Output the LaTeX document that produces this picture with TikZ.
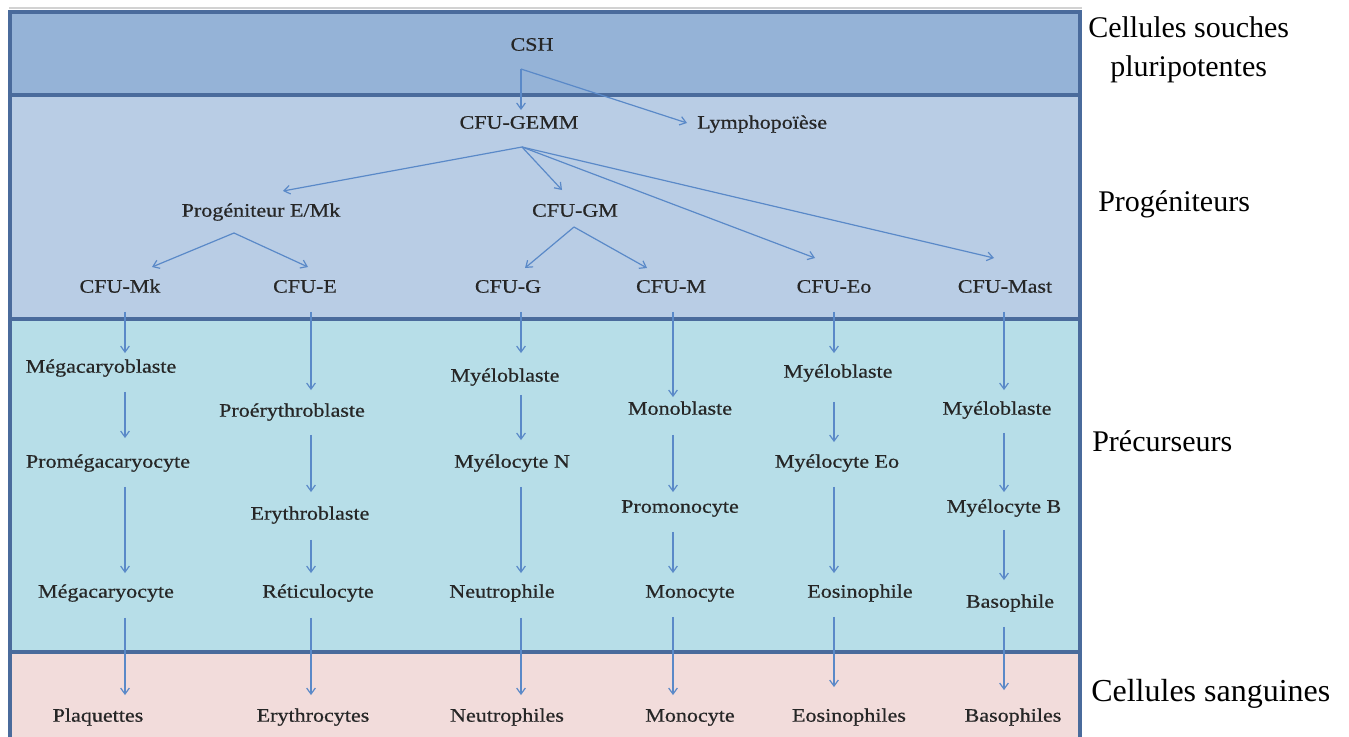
\documentclass[tikz,border=0pt]{standalone}
\usepackage{fontspec}
\setmainfont{Liberation Serif}
\newfontfamily\cellfont[FakeStretch=1.16,FakeBold=0.6]{Liberation Serif}
\usetikzlibrary{arrows.meta}
\definecolor{bandA}{HTML}{95B3D7}
\definecolor{bandB}{HTML}{B9CDE5}
\definecolor{bandC}{HTML}{B7DEE8}
\definecolor{bandD}{HTML}{F2DCDB}
\definecolor{bord}{HTML}{4A6B9C}
\definecolor{arrc}{HTML}{5A89C8}
\definecolor{txt}{HTML}{262626}
\newcommand\va[5]{\draw[arr,shorten <=#4pt,shorten >=#5pt] (#1.south -| #3) -- (#2.north -| #3);}
\begin{document}
\begin{tikzpicture}[x=0.75pt,y=-0.75pt,
 cell/.style={inner sep=0pt,text height=10pt,text depth=3pt,font=\cellfont\fontsize{14.25}{17}\selectfont,text=txt},
 side/.style={inner sep=0pt,font=\fontsize{22.5}{29}\selectfont,text=black,align=center},
 arr/.style={draw=arrc,line width=0.9pt,-{Straight Barb[length=4.5pt,width=6.5pt]}},
 sep/.style={draw=bord,line width=2.4pt}]
\useasboundingbox (0,0) rectangle (1349,736);
\begin{scope}
\clip (0,0) rectangle (1349,736);
\fill[bandA] (10,12) rectangle (1080,95);
\fill[bandB] (10,95) rectangle (1080,319);
\fill[bandC] (10,319) rectangle (1080,652);
\fill[bandD] (10,652) rectangle (1080,745);
\draw[gray!35,line width=1.5pt] (9,8) -- (1082,8);
\draw[sep] (10,95) -- (1080,95);
\draw[sep] (10,319) -- (1080,319);
\draw[sep] (10,652) -- (1080,652);
\draw[sep] (10,745) -- (10,12) -- (1080,12) -- (1080,745);
\end{scope}
% column coordinates
\coordinate (c1) at (125,0);
\coordinate (c2) at (311,0);
\coordinate (c3) at (521,0);
\coordinate (c4) at (673,0);
\coordinate (c5) at (834,0);
\coordinate (c6) at (1004,0);
% top
\node[cell] (csh) at (532,46) {CSH};
\node[cell] (gemm) at (519,124) {CFU-GEMM};
\node[cell,anchor=west] (lymph) at (697,124) {Lymphopoïèse};
\node[cell] (prog) at (261,212) {Progéniteur E/Mk};
\node[cell] (gm) at (575,212) {CFU-GM};
\node[cell] (mk) at (120,288) {CFU-Mk};
\node[cell] (e) at (305,288) {CFU-E};
\node[cell] (g) at (508,288) {CFU-G};
\node[cell] (m) at (671,288) {CFU-M};
\node[cell] (eo) at (834,288) {CFU-Eo};
\node[cell] (mast) at (1005,288) {CFU-Mast};
% column 1
\node[cell] (mkb) at (101,368) {Mégacaryoblaste};
\node[cell] (pmk) at (108,463) {Promégacaryocyte};
\node[cell] (mkc) at (106,593) {Mégacaryocyte};
\node[cell] (plaq) at (98,717) {Plaquettes};
% column 2
\node[cell] (pery) at (292,412) {Proérythroblaste};
\node[cell] (ery) at (310,515) {Erythroblaste};
\node[cell] (reti) at (318,593) {Réticulocyte};
\node[cell] (erys) at (313,717) {Erythrocytes};
% column 3
\node[cell] (myg) at (505,377) {Myéloblaste};
\node[cell] (myn) at (512,463) {Myélocyte N};
\node[cell] (neu) at (502,593) {Neutrophile};
\node[cell] (neus) at (507,717) {Neutrophiles};
% column 4
\node[cell] (monob) at (680,410) {Monoblaste};
\node[cell] (promono) at (680,508) {Promonocyte};
\node[cell] (mono) at (690,593) {Monocyte};
\node[cell] (monos) at (690,717) {Monocyte};
% column 5
\node[cell] (myeo) at (838,373) {Myéloblaste};
\node[cell] (myceo) at (837,463) {Myélocyte Eo};
\node[cell] (eos) at (860,593) {Eosinophile};
\node[cell] (eoss) at (849,717) {Eosinophiles};
% column 6
\node[cell] (mymast) at (997,410) {Myéloblaste};
\node[cell] (myb) at (1004,508) {Myélocyte B};
\node[cell] (baso) at (1010,603) {Basophile};
\node[cell] (basos) at (1013,717) {Basophiles};
% side labels
\node[side,anchor=west] (l1) at (1088,50) {Cellules souches\\pluripotentes};
\node[side,anchor=west] (l2) at (1098,204) {Progéniteurs};
\node[side,anchor=west] (l3) at (1092,441) {Précurseurs};
\node[side,anchor=west,font=\fontsize{24}{29}\selectfont] (l4) at (1091,694) {Cellules sanguines};
% branching arrows
\coordinate (cshout) at ([shift={(-11,23)}]csh.center);
\coordinate (gemmout) at ([shift={(3,23)}]gemm.center);
\coordinate (progout) at ([shift={(-27,21)}]prog.center);
\coordinate (gmout) at ([shift={(-1,15)}]gm.center);
\draw[arr] (cshout) -- ([shift={(2,-14)}]gemm.center);
\draw[arr] (cshout) -- ([shift={(-10,-1)}]lymph.west);
\draw[arr] (gemmout) -- ([shift={(22,-21)}]prog.center);
\draw[arr] (gemmout) -- ([shift={(-13,-22)}]gm.center);
\draw[arr] (gemmout) -- ([shift={(-19,-30)}]eo.center);
\draw[arr] (gemmout) -- ([shift={(-11,-30)}]mast.center);
\draw[arr] (progout) -- ([shift={(32,-21)}]mk.center);
\draw[arr] (progout) -- ([shift={(3,-21)}]e.center);
\draw[arr] (gmout) -- ([shift={(17,-20)}]g.center);
\draw[arr] (gmout) -- ([shift={(-24,-20)}]m.center);
% vertical arrows
\va{mk}{mkb}{c1}{11.25}{4.5}
\va{mkb}{pmk}{c1}{11.25}{12}
\va{pmk}{mkc}{c1}{11.25}{8.25}
\va{mkc}{plaq}{c1}{12}{9.75}
\va{e}{pery}{c2}{11.25}{9.75}
\va{pery}{ery}{c2}{10.5}{10.5}
\va{ery}{reti}{c2}{12}{8.25}
\va{reti}{erys}{c2}{12}{9.75}
\va{g}{myg}{c3}{11.25}{11.25}
\va{myg}{myn}{c3}{6.75}{10.5}
\va{myn}{neu}{c3}{11.25}{8.25}
\va{neu}{neus}{c3}{12}{9.75}
\va{m}{monob}{c4}{11.25}{3}
\va{monob}{promono}{c4}{12}{5.25}
\va{promono}{mono}{c4}{11.25}{8.25}
\va{mono}{monos}{c4}{11.25}{9.75}
\va{eo}{myeo}{c5}{11.25}{8.25}
\va{myeo}{myceo}{c5}{15}{9}
\va{myceo}{eos}{c5}{11.25}{8.25}
\va{eos}{eoss}{c5}{11.25}{15.75}
\va{mast}{mymast}{c6}{11.25}{8.25}
\va{mymast}{myb}{c6}{10.5}{5.25}
\va{myb}{baso}{c6}{9.75}{10.5}
\va{baso}{basos}{c6}{11.25}{13.5}
\end{tikzpicture}
\end{document}
